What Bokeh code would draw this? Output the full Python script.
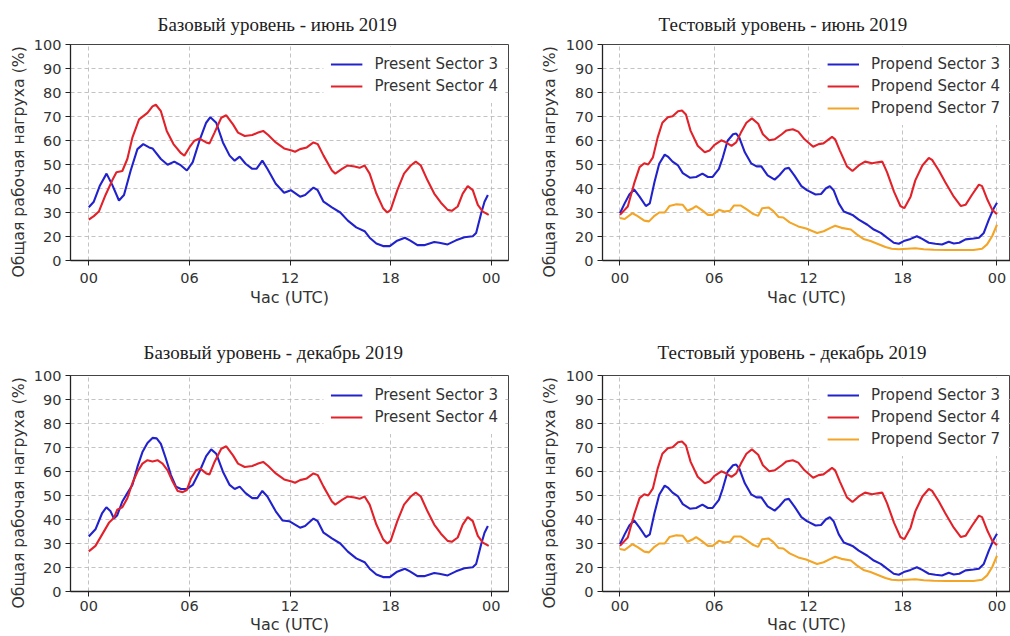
from bokeh.plotting import figure
from bokeh.layouts import column, row
from bokeh.models import Range1d, FixedTicker, Title
from bokeh.embed import file_html
from bokeh.resources import INLINE

# ---------------- data (hours UTC, load %) ----------------
x_ticks = [0, 6, 12, 18, 24]
x_tick_labels = ["00", "06", "12", "18", "00"]
y_ticks = [10, 20, 30, 40, 50, 60, 70, 80, 90, 100]
y_tick_labels = ["0", "20", "30", "40", "50", "60", "70", "80", "90", "100"]

titles = ["Базовый уровень - июнь 2019", "Тестовый уровень - июнь 2019",
          "Базовый уровень - декабрь 2019", "Тестовый уровень - декабрь 2019"]
x_label = "Час (UTC)"
y_label = "Общая рабочая нагруха (%)"

# Base level, June 2019
jun_base_s3_h = [0, 0.3, 0.65, 1.06, 1.4, 1.8, 2.1, 2.5, 2.9, 3.25, 3.6, 3.8, 4.3, 4.7, 5.1, 5.5,
                 5.85, 6.2, 6.6, 7.0, 7.25, 7.6, 8.0, 8.4, 8.7, 9.0, 9.35, 9.75, 10.0, 10.35, 10.65,
                 11.15, 11.65, 12.05, 12.6, 12.9, 13.4, 13.65, 14.0, 14.5, 15.0, 15.45, 15.95, 16.45,
                 16.75, 17.15, 17.55, 17.95, 18.35, 18.85, 19.15, 19.6, 20.0, 20.6, 20.9, 21.4, 21.9,
                 22.4, 22.9, 23.1, 23.4, 23.6, 23.8]
jun_base_s3_v = [32.2, 34.5, 41, 46.2, 41.5, 35, 37.3, 47.5, 56.4, 58.5, 57.1, 56.7, 52.3, 49.9, 51.2, 49.6,
                 47.5, 51, 59.9, 67.4, 69.7, 67.4, 59.2, 53.7, 51.6, 53.3, 50.3, 48.2, 48.2, 51.6, 48.2,
                 42, 38.2, 39.3, 36.6, 37.3, 40.4, 39.3, 34.5, 32.1, 30, 26.6, 23.8, 22.2,
                 19.5, 17.1, 16, 16, 18.1, 19.5, 18.4, 16.4, 16.4, 17.7, 17.4, 16.7, 18.4,
                 19.7, 20.1, 21.5, 29.7, 34.5, 37.3]
jun_base_s4_h = [0, 0.3, 0.6, 1.0, 1.4, 1.65, 2.0, 2.3, 2.6, 3.0, 3.5, 3.8, 4.0, 4.3, 4.65, 5.05, 5.5,
                 5.7, 6.0, 6.3, 6.6, 7.0, 7.2, 7.5, 7.9, 8.2, 8.6, 8.9, 9.3, 9.75, 10.1, 10.4, 10.7,
                 11.15, 11.65, 12.1, 12.3, 12.6, 13.0, 13.4, 13.65, 14.0, 14.5, 14.7, 15.1, 15.45,
                 15.85, 16.15, 16.45, 16.75, 17.15, 17.55, 17.8, 18.0, 18.4, 18.8, 19.2, 19.5, 19.8,
                 20.2, 20.6, 21.0, 21.4, 21.65, 22.0, 22.3, 22.6, 22.9, 23.2, 23.5, 23.85]
jun_base_s4_v = [27, 28.5, 30.4, 37.3, 43.4, 46.8, 47.3, 52.3, 61.2, 68.8, 71.5, 74.2, 74.9, 72.2, 64, 58.5, 54.7,
                 53.7, 57.1, 59.9, 60.8, 59.2, 58.8, 63.3, 69.5, 70.5, 66.7, 63.3, 61.9, 62.3, 63.3, 64, 62.3,
                 59.2, 56.7, 55.8, 55.3, 56.4, 57.1, 59.2, 58.5, 53.7, 47.5, 46.2, 48.2, 49.6,
                 49.2, 48.6, 49.6, 46.2, 37.9, 31.8, 30, 31.1, 39.3, 46.2, 49.6, 51.2, 49.6,
                 43.4, 37.9, 34.1, 31.1, 30.7, 32.5, 37.9, 41, 39.3, 33.2, 30.4, 29]

# Base level, December 2019
dec_base_s3_h = [0, 0.4, 0.8, 1.05, 1.3, 1.5, 1.7, 2.0, 2.3, 2.6, 2.9, 3.2, 3.5, 3.8, 4.05, 4.3, 4.6,
                 4.9, 5.2, 5.5, 5.85, 6.2, 6.6, 7.0, 7.3, 7.6, 8.0, 8.4, 8.7, 9.0, 9.35, 9.75, 10.05,
                 10.35, 10.65, 11.15, 11.55, 11.95, 12.6, 12.9, 13.4, 13.65, 14.0, 14.5, 15.0, 15.45,
                 15.95, 16.45, 16.75, 17.15, 17.55, 17.95, 18.35, 18.85, 19.15, 19.6, 20.0, 20.6, 20.9,
                 21.4, 21.9, 22.4, 22.9, 23.1, 23.4, 23.6, 23.8]
dec_base_s3_v = [32.9, 35.9, 42.7, 45.1, 43.4, 40.4, 41.8, 47.5, 51, 54.4, 61.9, 68.1, 71.9, 74, 73.8, 71.5, 65.3,
                 58.5, 53.7, 52.7, 52.7, 54.4, 59.9, 66.4, 69.2, 67.4, 59.9, 54.4, 52.7, 53.7, 51, 48.9, 48.9,
                 51.9, 49.6, 43.4, 39.6, 39.3, 36.6, 37.3, 40.4, 39.3, 34.5, 32.1, 30, 26.6,
                 23.8, 22.2, 19.5, 17.1, 16, 16, 18.1, 19.5, 18.4, 16.4, 16.4, 17.7, 17.4,
                 16.7, 18.4, 19.7, 20.1, 21.5, 29.7, 34.5, 37.3]
dec_base_s4_h = [0, 0.4, 0.8, 1.2, 1.5, 1.7, 2.0, 2.3, 2.6, 2.9, 3.2, 3.5, 3.8, 4.1, 4.4, 4.7, 5.0, 5.3,
                 5.6, 5.85, 6.1, 6.4, 6.65, 7.0, 7.2, 7.5, 7.9, 8.2, 8.6, 8.9, 9.3, 9.75, 10.1, 10.4, 10.7,
                 11.15, 11.65, 12.1, 12.3, 12.6, 13.0, 13.4, 13.65, 14.0, 14.5, 14.7, 15.1, 15.45,
                 15.85, 16.15, 16.45, 16.75, 17.15, 17.55, 17.8, 18.0, 18.4, 18.8, 19.2, 19.5, 19.8,
                 20.2, 20.6, 21.0, 21.4, 21.65, 22.0, 22.3, 22.6, 22.9, 23.2, 23.5, 23.85]
dec_base_s4_v = [26.7, 29, 33.8, 38.6, 40.7, 44.1, 45.1, 48.9, 55.1, 59.9, 63.3, 64.7, 64.2, 64.7, 63.3, 60.5, 55.8, 51.9,
                 51.4, 52.3, 57.1, 60.5, 61.2, 59.2, 58.8, 64, 69.5, 70.5, 66.7, 63.3, 61.9, 62.3, 63.3, 64, 62.3,
                 59.2, 56.7, 55.8, 55.3, 56.4, 57.1, 59.2, 58.5, 53.7, 47.5, 46.2, 48.2, 49.6,
                 49.2, 48.6, 49.6, 46.2, 37.9, 31.8, 30, 31.1, 39.3, 46.2, 49.6, 51.2, 49.6,
                 43.4, 37.9, 34.1, 31.1, 30.7, 32.5, 37.9, 41, 39.3, 33.2, 30.4, 29]

# Test level (same curves in June and December)
test_s3_h = [0, 0.3, 0.6, 0.9, 1.25, 1.65, 1.9, 2.2, 2.5, 2.85, 3.05, 3.35, 3.7, 4.0, 4.45, 4.85, 5.25,
             5.6, 5.9, 6.3, 6.55, 6.85, 7.2, 7.4, 7.6, 7.95, 8.35, 8.7, 9.0, 9.4, 9.85, 10.15, 10.5,
             10.75, 11.1, 11.55, 11.9, 12.45, 12.8, 13.1, 13.36, 13.6, 13.93, 14.25, 14.8, 15.2,
             15.75, 16.16, 16.6, 17.0, 17.43, 17.75, 18.07, 18.5, 18.9, 19.24, 19.66, 20.08, 20.5,
             20.93, 21.25, 21.6, 22.0, 22.5, 22.85, 23.16, 23.48, 23.8, 24.0]
test_s3_v = [29.7, 33.8, 37.5, 39.6, 36.6, 32.7, 33.8, 42.7, 50.3, 54.1, 53.3, 51.2, 49.6, 46.4, 44.5, 44.8, 46.2,
             44.8, 44.8, 48.2, 53, 59.9, 62.6, 62.9, 61.2, 55.1, 50.5, 49.2, 49.2, 45.5, 43.7, 45.5, 48.2,
             48.6, 45.5, 41, 39.3, 37.5, 37.7, 40, 41, 39.3, 33.8, 30.4, 29, 27,
             24.9, 22.9, 21.5, 19.5, 17.4, 17, 18.1, 19, 20.1, 19, 17.4, 17, 16.7,
             17.8, 17.1, 17.4, 18.8, 19.2, 19.5, 21.5, 27, 31.8, 34.1]
test_s4_h = [0, 0.5, 0.9, 1.25, 1.55, 1.8, 2.1, 2.4, 2.7, 3.05, 3.35, 3.7, 3.95, 4.2, 4.5, 4.95, 5.4,
             5.7, 6.0, 6.45, 6.75, 7.1, 7.4, 7.7, 8.05, 8.4, 8.8, 9.1, 9.5, 9.85, 10.3, 10.6, 11.0,
             11.35, 11.75, 12.3, 12.65, 12.95, 13.5, 13.7, 14.0, 14.45, 14.8, 15.2, 15.6, 16.05,
             16.4, 16.7, 17.0, 17.45, 17.85, 18.1, 18.5, 18.8, 19.25, 19.66, 19.87, 20.3, 20.7,
             21.25, 21.7, 22.0, 22.4, 22.85, 23.05, 23.4, 23.7, 24.0]
test_s4_v = [29, 32.5, 42, 48.9, 50.5, 50, 53, 61.2, 67.4, 69.7, 70.1, 72.2, 72.5, 70.8, 64, 57.8, 55.1,
             55.8, 58.1, 60.1, 59.2, 57.8, 59.2, 63.3, 67.4, 69.2, 67, 62.6, 60.1, 60.5, 62.6, 64.2, 64.7,
             63.7, 60.5, 57.4, 58.5, 58.8, 61.5, 60.5, 55.8, 49.2, 47.3, 49.6, 51.2, 50.5,
             50.9, 51.2, 46.8, 38.6, 32.7, 31.8, 36.6, 43.4, 49.6, 52.7, 51.9, 47.5, 42.7,
             36.6, 32.7, 33.2, 37.3, 41.6, 41, 35.2, 31.1, 29.3]
test_s7_h = [0, 0.3, 0.8, 1.1, 1.55, 1.85, 2.2, 2.5, 2.85, 3.15, 3.6, 4.0, 4.3, 4.65, 4.85, 5.2, 5.6,
             5.9, 6.3, 6.65, 7.0, 7.25, 7.7, 8.05, 8.45, 8.8, 9.05, 9.45, 9.75, 10.1, 10.4, 10.8,
             11.35, 11.85, 12.55, 12.97, 13.4, 13.7, 14.1, 14.7, 15.1, 15.5, 15.95, 16.5, 16.9,
             17.3, 17.75, 18.28, 18.8, 19.34, 19.98, 20.83, 21.68, 22.5, 23.05, 23.37, 23.69, 24.0]
test_s7_v = [27.7, 27.3, 29.7, 28.6, 26.6, 26.3, 28.6, 30, 30, 32.7, 33.4, 33.2, 30.7, 31.8, 32.7, 31.1, 29,
             29, 31.1, 30.4, 30.7, 32.9, 32.9, 31.4, 29.5, 28.6, 31.8, 32.1, 30.7, 28.1, 27.9, 25.9,
             24.2, 23.3, 21.5, 22.2, 23.6, 24.5, 23.6, 22.9, 20.8, 19, 18.1, 16.7, 15.6,
             14.9, 14.7, 14.9, 15.1, 14.7, 14.5, 14.4, 14.4, 14.4, 14.9, 16.7, 20.1, 24.9]

BLUE = "#2222cc"
RED = "#e2222a"
ORANGE = "#f2a526"


def make_panel(title, series, width, height, border_l, border_r, border_t, border_b,
               x_lo, x_hi, title_offset, title_standoff, ylabel_standoff,
               xtick_standoff, xlabel_standoff):
    p = figure(width=width, height=height, output_backend="svg", toolbar_location=None,
               x_range=Range1d(x_lo, x_hi), y_range=Range1d(10, 100),
               min_border_left=border_l, min_border_right=border_r,
               min_border_top=border_t, min_border_bottom=border_b,
               background_fill_color="white", border_fill_color="white")
    p.title.text = title
    p.title.align = "left"
    p.title.offset = title_offset
    p.title.standoff = title_standoff
    p.title.text_font = "Liberation Serif"
    p.title.text_font_size = "19px"
    p.title.text_font_style = "normal"
    p.title.text_color = "#222222"

    p.xaxis.ticker = FixedTicker(ticks=x_ticks)
    p.xaxis.major_label_overrides = dict(zip(x_ticks, x_tick_labels))
    p.yaxis.ticker = FixedTicker(ticks=y_ticks)
    p.yaxis.major_label_overrides = dict(zip(y_ticks, y_tick_labels))
    p.xaxis.axis_label = x_label
    for ax in (p.xaxis, p.yaxis):
        ax.axis_label_text_font = "DejaVu Sans"
        ax.axis_label_text_font_size = "16px"
        ax.axis_label_text_font_style = "normal"
        ax.axis_label_text_color = "#333333"
        ax.major_label_text_font = "DejaVu Sans"
        ax.major_label_text_font_size = "14.5px"
        ax.major_label_text_color = "#333333"
        ax.axis_line_color = "#222222"
        ax.axis_line_width = 1.3
        ax.major_tick_line_color = "#222222"
        ax.major_tick_out = 5
        ax.major_tick_in = 0
        ax.minor_tick_out = 0
        ax.minor_tick_in = 0
    p.xaxis.major_label_standoff = xtick_standoff
    p.xaxis.axis_label_standoff = xlabel_standoff
    p.yaxis.major_label_standoff = 4

    # y-axis title, sitting a little below the frame middle as in the reference
    p.add_layout(Title(text=y_label, align="left", offset=-17, standoff=ylabel_standoff,
                       text_font="DejaVu Sans", text_font_size="15.7px",
                       text_font_style="normal", text_color="#333333"), "left")

    for g in (p.xgrid, p.ygrid):
        g.grid_line_color = "#b4b4b4"
        g.grid_line_dash = "4 3"
        g.grid_line_width = 0.8
    p.outline_line_color = "#444444"
    p.outline_line_width = 1

    for hours, vals, color, label in series:
        p.line(hours, vals, line_color=color, line_width=2.1, legend_label=label)

    lg = p.legend[0]
    lg.location = "top_right"
    lg.label_text_font = "DejaVu Sans"
    lg.label_text_font_size = "15px"
    lg.label_text_color = "#333333"
    lg.glyph_width = 32
    lg.glyph_height = 20
    lg.label_height = 20
    lg.spacing = 2
    lg.padding = 7
    lg.margin = 3
    lg.label_standoff = 12
    lg.border_line_alpha = 0
    lg.background_fill_color = "white"
    lg.background_fill_alpha = 1
    return p


base_jun = [(jun_base_s3_h, jun_base_s3_v, BLUE, "Present Sector 3"),
            (jun_base_s4_h, jun_base_s4_v, RED, "Present Sector 4")]
base_dec = [(dec_base_s3_h, dec_base_s3_v, BLUE, "Present Sector 3"),
            (dec_base_s4_h, dec_base_s4_v, RED, "Present Sector 4")]
test_set = [(test_s3_h, test_s3_v, BLUE, "Propend Sector 3"),
            (test_s4_h, test_s4_v, RED, "Propend Sector 4"),
            (test_s7_h, test_s7_v, ORANGE, "Propend Sector 7")]

p1 = make_panel(titles[0], base_jun, 520, 317, 70, 12, 44, 57, -1.09, 25.03, 87, 19, 5, 7, 2)
p2 = make_panel(titles[1], test_set, 490, 317, 82, 0, 44, 57, -1.11, 24.86, 56, 19, 7, 7, 2)
p3 = make_panel(titles[2], base_dec, 520, 319, 70, 12, 58, 45, -1.09, 25.03, 73, 25, 5, 4, 1)
p4 = make_panel(titles[3], test_set, 490, 319, 82, 0, 58, 45, -1.11, 24.86, 55, 25, 7, 4, 1)

layout = column(row(p1, p2), row(p3, p4))

with open("out.html", "w") as f:
    f.write(file_html(layout, INLINE))
